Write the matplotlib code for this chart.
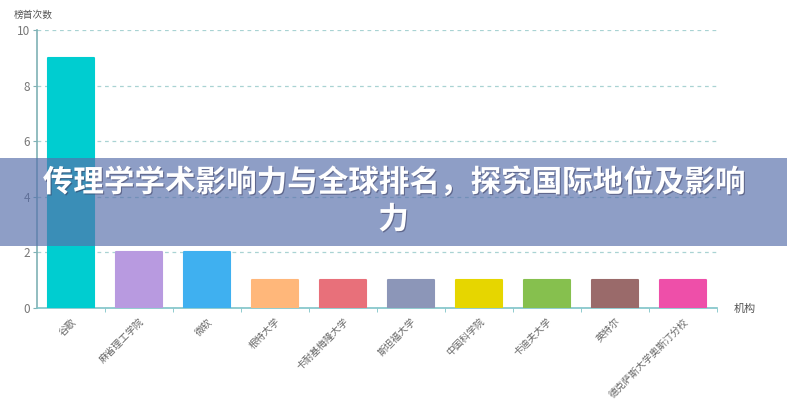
import matplotlib.pyplot as plt
from matplotlib.patches import Rectangle
import matplotlib.patheffects as pe

plt.rcParams['font.family'] = ['Noto Sans CJK SC', 'DejaVu Sans']

# data
institutions = ['谷歌', '麻省理工学院', '微软', '根特大学', '卡耐基梅隆大学', '斯坦福大学',
                '中国科学院', '卡迪夫大学', '英特尔', '德克萨斯大学奥斯汀分校']
top_counts = [9, 2, 2, 1, 1, 1, 1, 1, 1, 1]
bar_colors = ['#00cdd0', '#b89ae0', '#3fb0f0', '#ffb77a', '#e8707a', '#8c96b8',
              '#e6d600', '#86c04e', '#9a6a6a', '#ee4fa9']
title = '传理学学术影响力与全球排名，探究国际地位及影响\n力'

fig = plt.figure(figsize=(7.87, 4.0), dpi=100)
ax = fig.add_axes([0.047, 0.23, 0.864, 0.695])

x = list(range(len(institutions)))
ax.bar(x, top_counts, width=0.67, color=bar_colors, edgecolor=bar_colors,
       linewidth=1.5, joinstyle='round', zorder=3)

ax.set_xlim(-0.5, len(institutions) - 0.5)
ax.set_ylim(0, 10)
ax.set_yticks([0, 2, 4, 6, 8, 10])
ax.grid(axis='y', linestyle=(0, (3, 3)), color='#a9d3d3', linewidth=0.9, zorder=0)

for s in ['top', 'right']:
    ax.spines[s].set_visible(False)
ax.spines['left'].set_color('#7fb1b5')
ax.spines['bottom'].set_color('#7fc4c8')
ax.spines['left'].set_linewidth(1.2)
ax.spines['bottom'].set_linewidth(1.2)

ax.set_xticks(x)
ax.set_xticklabels(institutions, rotation=45, ha='right', rotation_mode='anchor',
                   fontsize=7, color='#666666')
ax.tick_params(axis='x', length=0, pad=6)
ax.set_xticks([i + 0.5 for i in x], minor=True)
ax.tick_params(axis='x', which='minor', length=3, color='#7fc4c8')
ax.tick_params(axis='y', labelsize=8.5, labelcolor='#777777', length=3, color='#7fb1b5', pad=2)

fig.text(0.018, 0.962, '榜首次数', fontsize=7, color='#555555', va='center', ha='left')
fig.text(0.932, 0.228, '机构', fontsize=8, color='#555555', va='center', ha='left')

# title banner over the chart
fig.patches.append(Rectangle((0, 0.385), 1, 0.22, transform=fig.transFigure,
                             facecolor='#576fab', alpha=0.67, zorder=10))
fig.text(0.5, 0.497, title, fontsize=22, fontweight='bold', color='white',
         ha='center', va='center', linespacing=1.2, zorder=11,
         path_effects=[pe.withSimplePatchShadow(offset=(0.8, -0.8), shadow_rgbFace='#333355', alpha=0.5)])

plt.savefig('out.png')
